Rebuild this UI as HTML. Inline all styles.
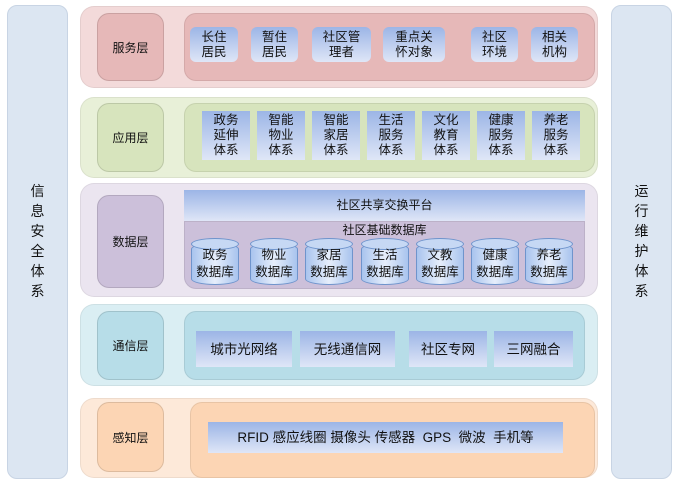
<!DOCTYPE html>
<html><head><meta charset="utf-8"><style>
*{margin:0;padding:0;box-sizing:border-box}
body{width:676px;height:483px;background:#fff;position:relative;overflow:hidden;font-family:"Liberation Sans","Noto Sans CJK SC",sans-serif;color:#111}
.a{position:absolute}
.side{background:#dce6f2;border:1px solid #c8d4e4;border-radius:10px}
.vt{position:absolute;left:0;right:0;text-align:center;font-size:14px;line-height:20px}
.outer{border-radius:14px;border:1px solid rgba(0,0,0,.06)}
.lab{border-radius:12px;display:flex;align-items:center;justify-content:center;font-size:12px;border:1px solid rgba(0,0,0,.12)}
.in{border-radius:12px;border:1px solid rgba(0,0,0,.08)}
.it{background:linear-gradient(#9cb5e6,#dfe6f7);display:flex;align-items:center;justify-content:center;text-align:center;font-size:12.5px;line-height:15px}
.r{border-radius:6px}
.cyl{position:absolute;width:48px;height:47px}
.cyl .b{position:absolute;left:0;right:0;top:5px;bottom:0;background:linear-gradient(90deg,#a9c4ee,#e6eefb 50%,#a9c4ee);border:1px solid #6f94cc;border-radius:24px/6px}
.cyl .t{position:absolute;left:0;right:0;top:0;height:12px;background:#c6d8f4;border:1px solid #6f94cc;border-radius:50%}
.cyl .x{position:absolute;left:0;right:0;top:9px;text-align:center;font-size:12.5px;line-height:17px}
</style></head><body>
<div class="a side" style="left:7px;top:5px;width:61px;height:474px"><div class="vt" style="top:175px">信<br>息<br>安<br>全<br>体<br>系</div></div>
<div class="a side" style="left:611px;top:5px;width:61px;height:474px"><div class="vt" style="top:175px">运<br>行<br>维<br>护<br>体<br>系</div></div>

<!-- service -->
<div class="a outer" style="left:80px;top:6px;width:518px;height:82px;background:#f3dada"></div>
<div class="a lab" style="left:97px;top:13px;width:67px;height:68px;background:#e6b8b8">服务层</div>
<div class="a in" style="left:184px;top:13px;width:411px;height:68px;background:#e6b8b8"></div>
<div class="a it r" style="left:190px;top:27px;width:48px;height:35px">长住<br>居民</div>
<div class="a it r" style="left:251px;top:27px;width:47px;height:35px">暂住<br>居民</div>
<div class="a it r" style="left:312px;top:27px;width:59px;height:35px">社区管<br>理者</div>
<div class="a it r" style="left:383px;top:27px;width:62px;height:35px">重点关<br>怀对象</div>
<div class="a it r" style="left:471px;top:27px;width:47px;height:35px">社区<br>环境</div>
<div class="a it r" style="left:531px;top:27px;width:47px;height:35px">相关<br>机构</div>

<!-- application -->
<div class="a outer" style="left:80px;top:97px;width:518px;height:81px;background:#e8f0d8"></div>
<div class="a lab" style="left:97px;top:103px;width:67px;height:69px;background:#d7e4bd">应用层</div>
<div class="a in" style="left:184px;top:103px;width:411px;height:69px;background:#d7e4bd"></div>
<div class="a it" style="left:202px;top:111px;width:48px;height:49px">政务<br>延伸<br>体系</div>
<div class="a it" style="left:257px;top:111px;width:48px;height:49px">智能<br>物业<br>体系</div>
<div class="a it" style="left:312px;top:111px;width:48px;height:49px">智能<br>家居<br>体系</div>
<div class="a it" style="left:367px;top:111px;width:48px;height:49px">生活<br>服务<br>体系</div>
<div class="a it" style="left:422px;top:111px;width:48px;height:49px">文化<br>教育<br>体系</div>
<div class="a it" style="left:477px;top:111px;width:48px;height:49px">健康<br>服务<br>体系</div>
<div class="a it" style="left:532px;top:111px;width:48px;height:49px">养老<br>服务<br>体系</div>

<!-- data -->
<div class="a outer" style="left:80px;top:183px;width:518px;height:114px;background:#ebe5f0"></div>
<div class="a lab" style="left:97px;top:195px;width:67px;height:93px;background:#ccc0da">数据层</div>
<div class="a it" style="left:184px;top:190px;width:401px;height:31px;font-size:12px">社区共享交换平台</div>
<div class="a in" style="left:184px;top:221px;width:401px;height:68px;background:#ccc0da;border-radius:0 0 12px 12px"></div>
<div class="a" style="left:184px;top:222px;width:401px;text-align:center;font-size:12px;line-height:16px">社区基础数据库</div>
<div class="cyl" style="left:191px;top:238px"><div class="b"></div><div class="t"></div><div class="x">政务<br>数据库</div></div>
<div class="cyl" style="left:250px;top:238px"><div class="b"></div><div class="t"></div><div class="x">物业<br>数据库</div></div>
<div class="cyl" style="left:305px;top:238px"><div class="b"></div><div class="t"></div><div class="x">家居<br>数据库</div></div>
<div class="cyl" style="left:361px;top:238px"><div class="b"></div><div class="t"></div><div class="x">生活<br>数据库</div></div>
<div class="cyl" style="left:416px;top:238px"><div class="b"></div><div class="t"></div><div class="x">文教<br>数据库</div></div>
<div class="cyl" style="left:471px;top:238px"><div class="b"></div><div class="t"></div><div class="x">健康<br>数据库</div></div>
<div class="cyl" style="left:525px;top:238px"><div class="b"></div><div class="t"></div><div class="x">养老<br>数据库</div></div>

<!-- comm -->
<div class="a outer" style="left:80px;top:304px;width:518px;height:82px;background:#daeef3"></div>
<div class="a lab" style="left:97px;top:311px;width:67px;height:69px;background:#b7dde8">通信层</div>
<div class="a in" style="left:184px;top:311px;width:401px;height:69px;background:#b7dde8"></div>
<div class="a it" style="left:196px;top:331px;width:96px;height:36px;font-size:13.5px">城市光网络</div>
<div class="a it" style="left:300px;top:331px;width:95px;height:36px;font-size:13.5px">无线通信网</div>
<div class="a it" style="left:409px;top:331px;width:78px;height:36px;font-size:13.5px">社区专网</div>
<div class="a it" style="left:494px;top:331px;width:79px;height:36px;font-size:13.5px">三网融合</div>

<!-- sense -->
<div class="a outer" style="left:80px;top:398px;width:518px;height:80px;background:#fde9d9"></div>
<div class="a lab" style="left:97px;top:402px;width:67px;height:70px;background:#fcd5b4">感知层</div>
<div class="a in" style="left:190px;top:402px;width:405px;height:76px;background:#fcd5b4"></div>
<div class="a it" style="left:208px;top:422px;width:355px;height:31px;font-size:13.5px">RFID 感应线圈 摄像头 传感器&nbsp; GPS&nbsp; 微波&nbsp; 手机等</div>
</body></html>
